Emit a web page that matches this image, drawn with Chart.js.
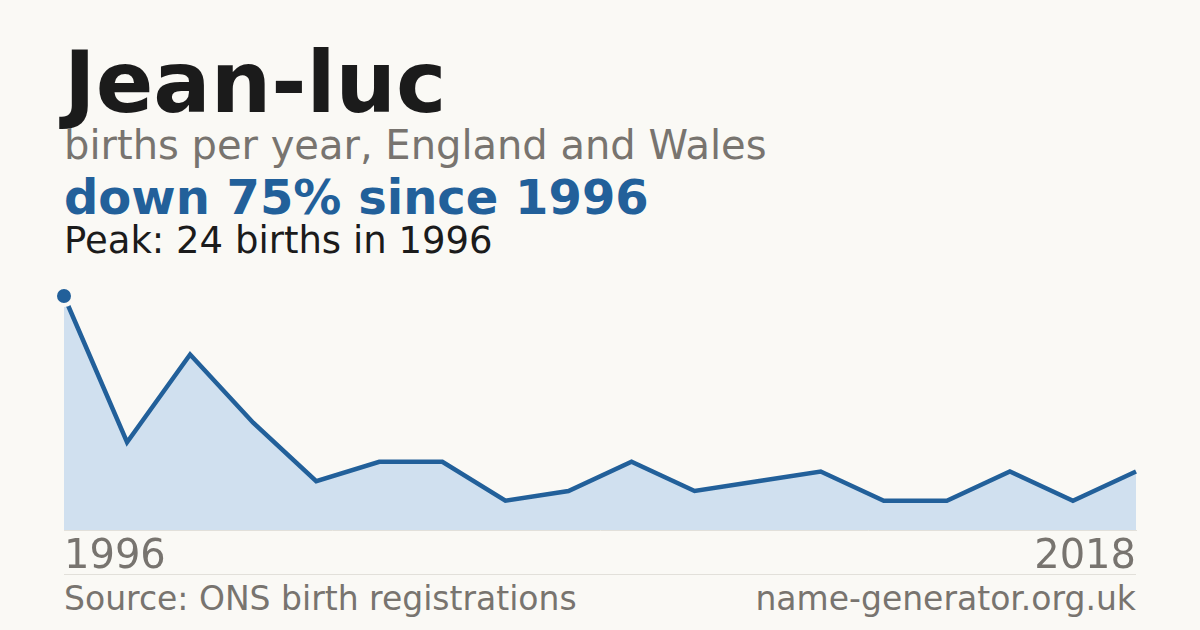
<!DOCTYPE html>
<html>
<head>
<meta charset="utf-8">
<script src="https://cdn.jsdelivr.net/npm/chart.js@4"></script>
<style>
  html, body { margin:0; padding:0; }
  body { width:1200px; height:630px; background:#faf9f5; position:relative; overflow:hidden; font-family:"DejaVu Sans", sans-serif; }
  .t { position:absolute; white-space:nowrap; line-height:1; }
  #title { left:64px; top:40px; font-size:85px; font-weight:bold; color:#1b1b1b; }
  #sub { left:64px; top:125px; font-size:40px; color:#78746f; }
  #change { left:64px; top:173px; font-size:48px; font-weight:bold; color:#22609a; }
  #peak { left:64px; top:222px; font-size:37px; color:#1b1b1b; }
  #rule { position:absolute; left:64px; width:1072px; top:574px; height:1px; background:#e2e0da; }
  #src { left:64px; top:582px; font-size:33px; color:#78746f; }
  #site { right:64px; top:582px; font-size:33px; color:#78746f; }
  #wrap { position:absolute; left:44px; top:276px; width:1112px; height:300px; }
</style>
</head>
<body>
<div class="t" id="title">Jean-luc</div>
<div class="t" id="sub">births per year, England and Wales</div>
<div class="t" id="change">down 75% since 1996</div>
<div class="t" id="peak">Peak: 24 births in 1996</div>
<div id="wrap"><canvas id="c"></canvas></div>
<div id="rule"></div>
<div class="t" id="src">Source: ONS birth registrations</div>
<div class="t" id="site">name-generator.org.uk</div>
<script>
const years = ["1996","1997","1998","1999","2000","2001","2002","2003","2004","2006","2008","2009","2010","2012","2014","2015","2016","2018"];
const births = [24, 9, 18, 11, 5, 7, 7, 3, 4, 7, 4, 5, 6, 3, 3, 6, 3, 6];

const BG = "#faf9f5", BLUE = "#22609a", FILL = "#d0e0ef", GRAY = "#78746f";
const peakIndex = births.indexOf(Math.max(...births));

new Chart(document.getElementById("c"), {
  type: "line",
  data: {
    labels: years,
    datasets: [{
      data: births,
      borderColor: BLUE,
      borderWidth: 4.5,
      backgroundColor: FILL,
      fill: "origin",
      tension: 0,
      borderCapStyle: "butt",
      borderJoinStyle: "miter",
      pointRadius: births.map((v, i) => i === peakIndex ? 9 : 0),
      pointBackgroundColor: BLUE,
      pointBorderColor: BG,
      pointBorderWidth: 4,
      pointHoverRadius: 0,
      clip: false
    }]
  },
  options: {
    responsive: true,
    maintainAspectRatio: false,
    animation: false,
    events: [],
    layout: { padding: { left: 20, right: 20, top: 20, bottom: 0 } },
    plugins: { legend: { display: false }, tooltip: { enabled: false } },
    scales: {
      x: {
        offset: false,
        grid: { display: false, drawTicks: false },
        border: { display: true, color: "#e2e0da", width: 1 },
        afterFit: (s) => { s.height = 46; },
        ticks: {
          autoSkip: false,
          maxRotation: 0,
          align: "inner",
          padding: 4,
          color: GRAY,
          font: { family: "DejaVu Sans", size: 40 },
          callback: function(v, i) { return (i === 0 || i === years.length - 1) ? years[i] : ""; }
        }
      },
      y: {
        display: false,
        min: 0,
        max: 24
      }
    }
  }
});
</script>
</body>
</html>
